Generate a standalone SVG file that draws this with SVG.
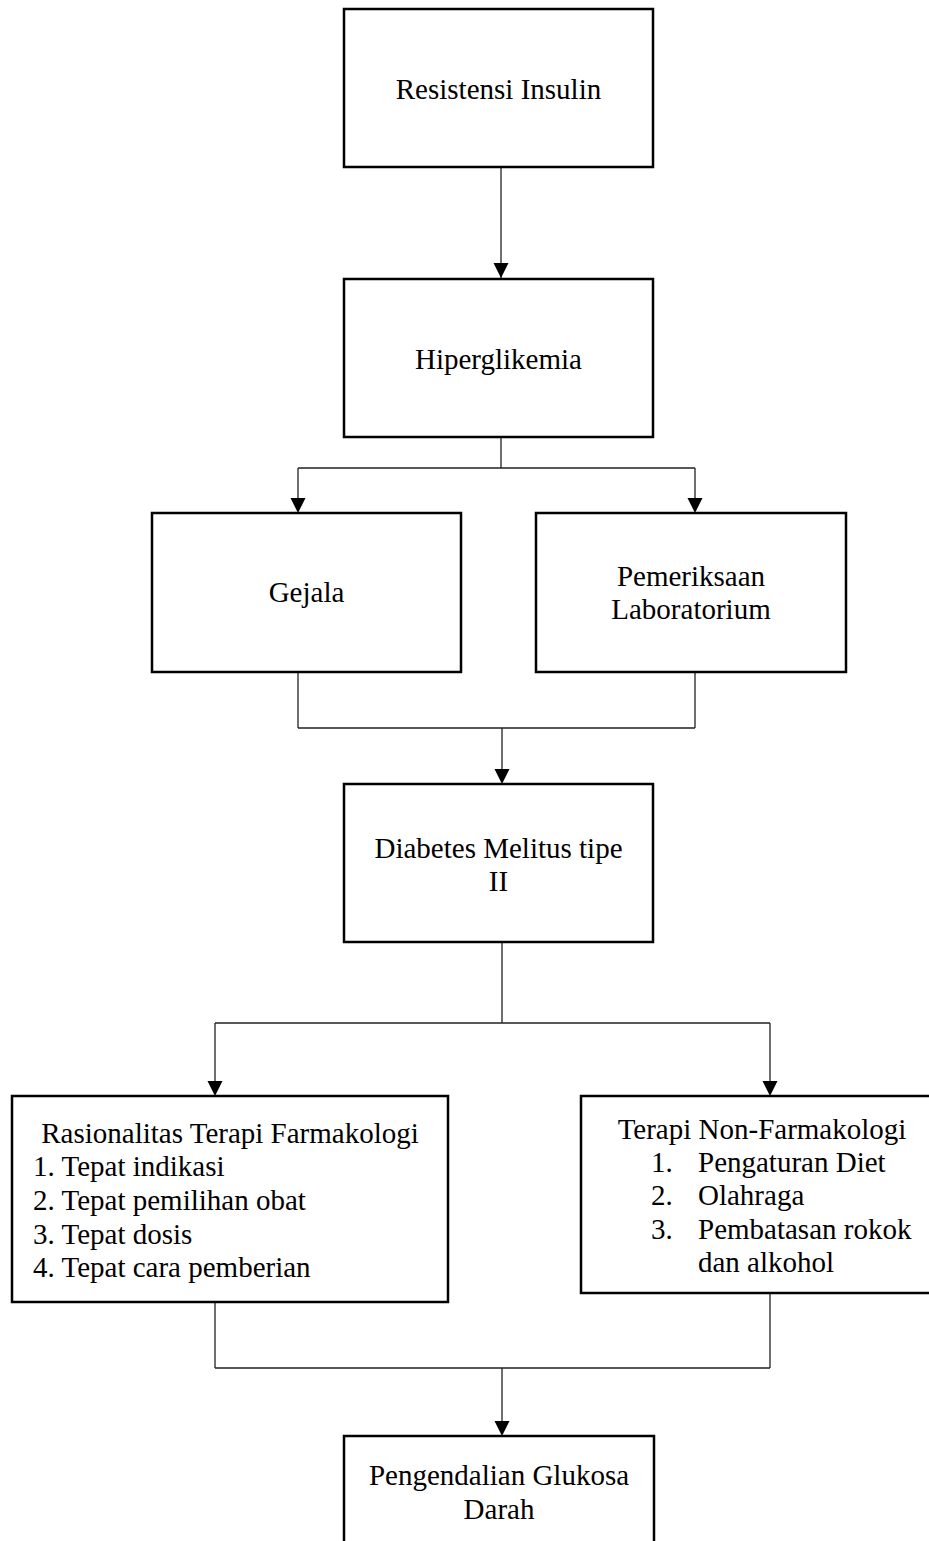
<svg xmlns="http://www.w3.org/2000/svg" width="929" height="1541" viewBox="0 0 929 1541">
<style>
.box{fill:#fff;stroke:#000;stroke-width:2.5}
.t{font-family:"Liberation Serif","Times New Roman",serif;font-size:29px;fill:#000}
.c{text-anchor:middle}
.ln{fill:none;stroke:#222;stroke-width:1.3}
</style>
<defs>
<marker id="ah" markerWidth="15" markerHeight="15" refX="7.5" refY="15" orient="auto-start-reverse" markerUnits="userSpaceOnUse" viewBox="0 0 15 15">
<path d="M0,0 L15,0 L7.5,15 Z" fill="#000"/>
</marker>
</defs>
<rect width="929" height="1541" fill="#fff"/>
<g id="connectors">
<line class="ln" x1="501" y1="167" x2="501" y2="263"/>
<path class="ln" d="M501,263 L501,278"/>
<polygon points="493.5,263 508.5,263 501,278" fill="#000"/>
<path class="ln" d="M501,437 L501,468 M298,468 L695,468 M298,468 L298,498 M695,468 L695,498"/>
<polygon points="290.5,498 305.5,498 298,513" fill="#000"/>
<polygon points="687.5,498 702.5,498 695,513" fill="#000"/>
<path class="ln" d="M298,672 L298,728 M695,672 L695,728 M298,728 L695,728 M502,728 L502,769"/>
<polygon points="494.5,769 509.5,769 502,784" fill="#000"/>
<path class="ln" d="M502,942 L502,1023 M215,1023 L770,1023 M215,1023 L215,1081 M770,1023 L770,1081"/>
<polygon points="207.5,1081 222.5,1081 215,1096" fill="#000"/>
<polygon points="762.5,1081 777.5,1081 770,1096" fill="#000"/>
<path class="ln" d="M215,1302 L215,1368 M770,1293 L770,1368 M215,1368 L770,1368 M502,1368 L502,1421"/>
<polygon points="494.5,1421 509.5,1421 502,1436" fill="#000"/>
</g>
<g id="n1">
<rect class="box" x="344" y="9" width="309" height="158"/>
<text class="t c" x="498.5" y="99">Resistensi Insulin</text>
</g>
<g id="n2">
<rect class="box" x="344" y="279" width="309" height="158"/>
<text class="t c" x="498.5" y="369">Hiperglikemia</text>
</g>
<g id="n3">
<rect class="box" x="152" y="513" width="309" height="159"/>
<text class="t c" x="306.5" y="602">Gejala</text>
</g>
<g id="n4">
<rect class="box" x="536" y="513" width="310" height="159"/>
<text class="t c" x="691" y="586">Pemeriksaan</text>
<text class="t c" x="691" y="619">Laboratorium</text>
</g>
<g id="n5">
<rect class="box" x="344" y="784" width="309" height="158"/>
<text class="t c" x="498.5" y="858">Diabetes Melitus tipe</text>
<text class="t c" x="498.5" y="891">II</text>
</g>
<g id="n6">
<rect class="box" x="12" y="1096" width="436" height="206"/>
<text class="t c" x="230" y="1143">Rasionalitas Terapi Farmakologi</text>
<text class="t" x="33" y="1176">1. Tepat indikasi</text>
<text class="t" x="33" y="1210">2. Tepat pemilihan obat</text>
<text class="t" x="33" y="1244">3. Tepat dosis</text>
<text class="t" x="33" y="1277">4. Tepat cara pemberian</text>
</g>
<g id="n7">
<rect class="box" x="581" y="1096" width="362" height="197"/>
<text class="t c" x="762" y="1139">Terapi Non-Farmakologi</text>
<text class="t" x="651" y="1172">1.</text>
<text class="t" x="698" y="1172">Pengaturan Diet</text>
<text class="t" x="651" y="1205">2.</text>
<text class="t" x="698" y="1205">Olahraga</text>
<text class="t" x="651" y="1239">3.</text>
<text class="t" x="698" y="1239">Pembatasan rokok</text>
<text class="t" x="698" y="1272">dan alkohol</text>
</g>
<g id="n8">
<rect class="box" x="344" y="1436" width="310" height="120"/>
<text class="t c" x="499" y="1485">Pengendalian Glukosa</text>
<text class="t c" x="499" y="1519">Darah</text>
</g>
</svg>
